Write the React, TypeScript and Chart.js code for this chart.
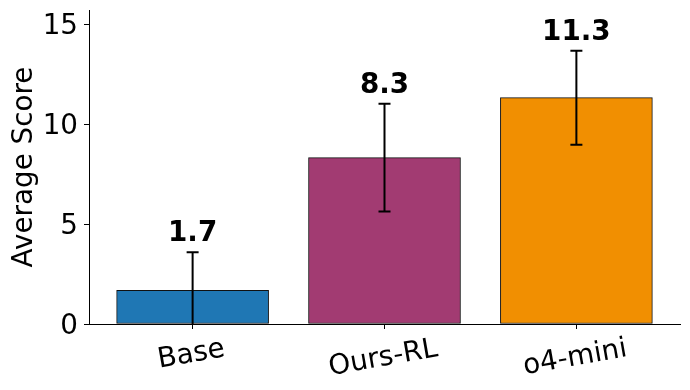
import React, { useEffect, useRef } from "react";
import { Chart, registerables } from "chart.js";

Chart.register(...registerables);

const categories = ["Base", "Ours-RL", "o4-mini"];
const scores = [1.69, 8.33, 11.33];
const errors = [1.9, 2.7, 2.35];
const valueLabels = ["1.7", "8.3", "11.3"];
const barColors = ["#1f77b4", "#a23b72", "#f18f01"];
const yTicks = [0, 5, 10, 15];
const yMax = 15.72;
const xMin = -0.54;
const xMax = 2.54;
const yTitle = "Average Score";

const FONT = '"DejaVu Sans", "Liberation Sans", sans-serif';
const FS = 27.8;

const overlayPlugin = {
  id: "overlay",
  afterDatasetsDraw(chart: any) {
    const { ctx, chartArea, scales } = chart;
    const xs = scales.x;
    const ys = scales.y;
    const rot = (10 * Math.PI) / 180;

    // error bars
    ctx.save();
    ctx.beginPath();
    ctx.rect(chartArea.left, chartArea.top, chartArea.right - chartArea.left, chartArea.bottom - chartArea.top);
    ctx.clip();
    ctx.strokeStyle = "#000";
    ctx.lineWidth = 2;
    scores.forEach((v, i) => {
      const cx = xs.getPixelForValue(i);
      const yt = ys.getPixelForValue(v + errors[i]);
      const yb = ys.getPixelForValue(v - errors[i]);
      ctx.beginPath();
      ctx.moveTo(cx, yt);
      ctx.lineTo(cx, yb);
      ctx.moveTo(cx - 6, yt);
      ctx.lineTo(cx + 6, yt);
      ctx.moveTo(cx - 6, yb);
      ctx.lineTo(cx + 6, yb);
      ctx.stroke();
    });
    ctx.restore();

    // value labels
    ctx.save();
    ctx.fillStyle = "#000";
    ctx.font = `bold ${FS}px ${FONT}`;
    ctx.textAlign = "center";
    ctx.textBaseline = "alphabetic";
    scores.forEach((v, i) => {
      const cx = xs.getPixelForValue(i);
      const yt = ys.getPixelForValue(v + errors[i]);
      ctx.fillText(valueLabels[i], cx, yt - 11);
    });
    ctx.restore();

    // y tick labels
    ctx.save();
    ctx.fillStyle = "#000";
    ctx.font = `${FS}px ${FONT}`;
    ctx.textAlign = "right";
    ctx.textBaseline = "alphabetic";
    yTicks.forEach((v) => {
      const py = ys.getPixelForValue(v);
      ctx.fillText(String(v), chartArea.left - 11, py + 10.1);
    });
    ctx.restore();

    // x labels (rotated, centered)
    ctx.save();
    ctx.fillStyle = "#000";
    ctx.font = `${FS}px ${FONT}`;
    ctx.textAlign = "center";
    ctx.textBaseline = "alphabetic";
    categories.forEach((c, i) => {
      const cx = xs.getPixelForValue(i);
      const w = ctx.measureText(c).width;
      const by = chartArea.bottom + 32 + (w / 2) * Math.sin(rot);
      ctx.save();
      ctx.translate(cx, by);
      ctx.rotate(-rot);
      ctx.fillText(c, 0, 0);
      ctx.restore();
    });
    ctx.restore();

    // y title
    ctx.save();
    ctx.fillStyle = "#000";
    ctx.font = `${FS}px ${FONT}`;
    ctx.textAlign = "center";
    ctx.textBaseline = "alphabetic";
    ctx.translate(32, (chartArea.top + chartArea.bottom) / 2);
    ctx.rotate(-Math.PI / 2);
    ctx.fillText(yTitle, 0, 0);
    ctx.restore();
  },
};

export default function App() {
  const ref = useRef<HTMLCanvasElement | null>(null);

  useEffect(() => {
    if (!ref.current) return;
    const chart = new Chart(ref.current, {
      type: "bar",
      data: {
        datasets: [
          {
            data: scores.map((y, i) => ({ x: i, y })),
            backgroundColor: barColors,
            borderColor: "#111",
            borderWidth: 1,
            borderSkipped: false,
            barThickness: 152,
          } as any,
        ],
      },
      options: {
        animation: false,
        responsive: false,
        devicePixelRatio: 1,
        layout: { padding: { left: 0, right: 10, top: 10, bottom: 0 } },
        plugins: { legend: { display: false }, tooltip: { enabled: false } },
        scales: {
          x: {
            type: "linear",
            min: xMin,
            max: xMax,
            offset: false,
            grid: { display: true, offset: false, drawOnChartArea: false, drawTicks: true, tickLength: 5, color: "#000", lineWidth: 1 },
            border: { display: true, color: "#000", width: 1 },
            ticks: { display: false, includeBounds: false },
            afterBuildTicks: (s: any) => {
              s.ticks = categories.map((_, i) => ({ value: i }));
            },
            afterFit: (s: any) => {
              s.height = 66;
              s.paddingLeft = 0;
              s.paddingRight = 0;
            },
          },
          y: {
            type: "linear",
            min: 0,
            max: yMax,
            grid: { display: true, offset: false, drawOnChartArea: false, drawTicks: true, tickLength: 5, color: "#000", lineWidth: 1 },
            border: { display: true, color: "#000", width: 1 },
            ticks: { display: false, includeBounds: false },
            afterBuildTicks: (s: any) => {
              s.ticks = yTicks.map((v) => ({ value: v }));
            },
            afterFit: (s: any) => {
              s.width = 89;
              s.paddingTop = 0;
              s.paddingBottom = 0;
            },
          },
        },
      } as any,
      plugins: [overlayPlugin],
    });
    return () => chart.destroy();
  }, []);

  return (
    <div style={{ position: "absolute", left: 0, top: 0, width: 690, height: 390, background: "#fff" }}>
      <canvas ref={ref} width={690} height={390} style={{ width: 690, height: 390, display: "block" }} />
    </div>
  );
}
